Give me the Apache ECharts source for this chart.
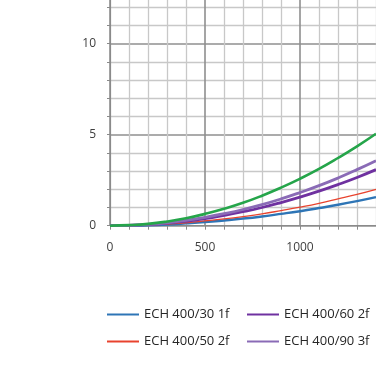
<!DOCTYPE html>
<html>
<head>
<meta charset="utf-8">
<script src="https://cdn.jsdelivr.net/npm/echarts@6/dist/echarts.min.js"></script>
<style>
html,body{margin:0;padding:0;width:376px;height:372px;overflow:hidden;background:#fff;}
#c{position:absolute;left:0;top:-60px;width:520px;height:432px;}
</style>
</head>
<body>
<div id="c"></div>
<script>
// Flow (x) values
const xValues = [0,100,200,300,400,500,600,700,800,900,1000,1100,1200,1300,1400];
// Series values
const ech30_1f = [0,0.01,0.03,0.07,0.13,0.20,0.29,0.39,0.51,0.65,0.80,0.97,1.15,1.35,1.57];
const ech50_2f = [0,0.01,0.04,0.09,0.16,0.26,0.37,0.50,0.65,0.83,1.02,1.23,1.47,1.72,2.00];
const ech60_2f = [0,0.02,0.06,0.14,0.25,0.39,0.57,0.77,1.00,1.27,1.57,1.90,2.26,2.65,3.08];
const ech90_3f = [0,0.02,0.07,0.16,0.29,0.46,0.66,0.89,1.16,1.47,1.82,2.20,2.62,3.08,3.57];
const echGreen = [0,0.03,0.10,0.23,0.41,0.65,0.93,1.26,1.65,2.09,2.58,3.12,3.72,4.36,5.05];
const seriesNames = ['ECH 400/30 1f','ECH 400/50 2f','ECH 400/60 2f','ECH 400/90 3f','ECH 400'];

function pairs(ys){ return xValues.map((x,i)=>[x,ys[i]]); }

const chart = echarts.init(document.getElementById('c'));
const font = "'Open Sans', sans-serif";
const labelColor = '#404040';
function leg(name, left, top){
  return {data:[name], left:left, top:top, orient:'vertical', icon:'rect', itemWidth:32, itemHeight:2,
    padding:0, textStyle:{fontFamily:font, fontSize:13, color:'#262626'}, selectedMode:false};
}
const majorGrid = {show:true, lineStyle:{color:'#8f8f8f', width:1.6}};
const minorGrid = {show:true, lineStyle:{color:'#c8c8c8', width:1.3}};
chart.setOption({
  animation:false,
  grid:{left:110, right:30, top:12.7, bottom:146.3},
  xAxis:{type:'value', min:0, max:2000, interval:500,
    axisLine:{show:true, lineStyle:{color:'#8a8a8a', width:1.2}},
    axisTick:{show:true, inside:false, length:4, lineStyle:{color:'#8a8a8a'}},
    minorTick:{show:true, splitNumber:5, length:4, lineStyle:{color:'#8a8a8a'}},
    splitLine:majorGrid,
    minorSplitLine:minorGrid,
    axisLabel:{fontFamily:font, fontSize:12, color:labelColor, margin:16, formatter:v=>String(v)}},
  yAxis:{type:'value', min:0, max:15, interval:5,
    axisLine:{show:true, lineStyle:{color:'#8a8a8a', width:1.2}},
    axisTick:{show:true, inside:false, length:3, lineStyle:{color:'#8a8a8a'}},
    minorTick:{show:true, splitNumber:5, length:3, lineStyle:{color:'#8a8a8a'}},
    splitLine:majorGrid,
    minorSplitLine:minorGrid,
    axisLabel:{fontFamily:font, fontSize:12, color:labelColor, margin:14, formatter:v=>String(v)}},
  legend:[
    leg(seriesNames[0], 107, 368),
    leg(seriesNames[1], 107, 395),
    leg(seriesNames[2], 247, 368),
    leg(seriesNames[3], 247, 395)
  ],
  series:[
    {name:seriesNames[0], type:'line', smooth:true, showSymbol:false, data:pairs(ech30_1f),
      color:'#2E75B6', lineStyle:{width:2.5}},
    {name:seriesNames[1], type:'line', smooth:true, showSymbol:false, data:pairs(ech50_2f),
      color:'#E8432E', lineStyle:{width:1.3}},
    {name:seriesNames[2], type:'line', smooth:true, showSymbol:false, data:pairs(ech60_2f),
      color:'#6F31A0', lineStyle:{width:2.8}},
    {name:seriesNames[3], type:'line', smooth:true, showSymbol:false, data:pairs(ech90_3f),
      color:'#8A6BB6', lineStyle:{width:2.8}},
    {name:seriesNames[4], type:'line', smooth:true, showSymbol:false, data:pairs(echGreen),
      color:'#25A54A', lineStyle:{width:2.6}}
  ]
});
</script>
</body>
</html>
